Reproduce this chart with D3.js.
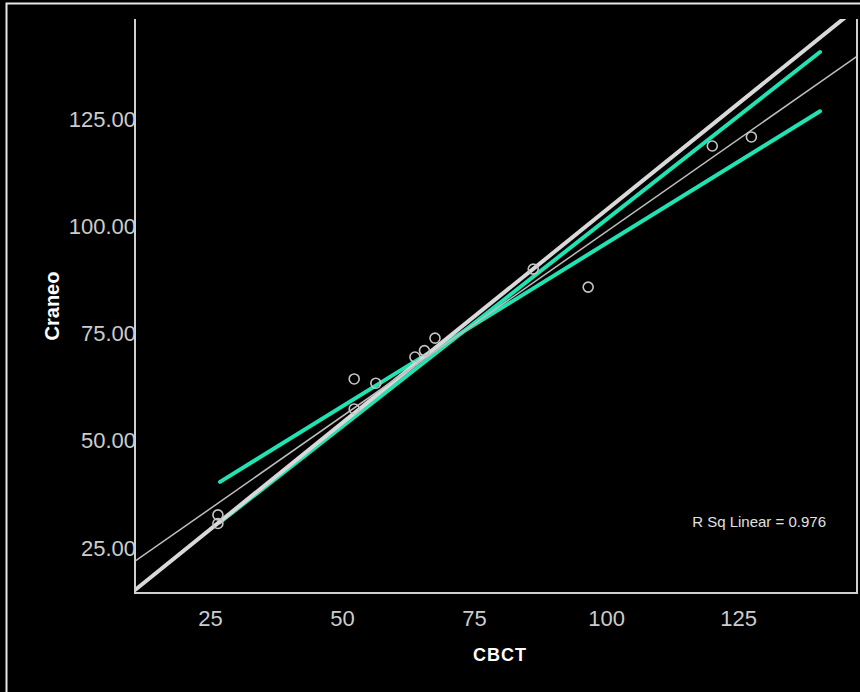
<!DOCTYPE html>
<html>
<head>
<meta charset="utf-8">
<script src="https://cdn.jsdelivr.net/npm/d3@7"></script>
<style>
  body { margin: 0; background: #000; }
  svg { display: block; }
</style>
</head>
<body>
<div id="chart"></div>
<script>
// data
const pointsX = [26.5, 26.5, 52.3, 52.3, 56.4, 63.8, 65.6, 67.6, 86.2, 96.6, 120.1, 127.5];
const pointsY = [32.5, 30.5, 64.2, 57.2, 63.2, 69.3, 70.8, 73.7, 89.8, 85.6, 118.5, 120.6];
const xTicks = [25, 50, 75, 100, 125];
const yTicks = [25, 50, 75, 100, 125];
const fitLine = [[10.8, 21.7], [147.5, 139.4]];
const refLine = [[10.8, 15.0], [147.5, 150.7]];
const cyanFlat = [[26.9, 40.2], [140.5, 126.6]];
const cyanSteep = [[26.9, 30.8], [140.5, 140.4]];
const rSq = 0.976;

const width = 860, height = 692;
const plot = {left: 135, right: 857, top: 19, bottom: 593};

const svg = d3.select("#chart").append("svg")
  .attr("width", width)
  .attr("height", height);

svg.append("rect").attr("width", width).attr("height", height).attr("fill", "#000");

// outer frame (right and bottom run off the picture)
svg.append("rect")
  .attr("x", 6.5).attr("y", 3.5)
  .attr("width", 900).attr("height", 800)
  .attr("fill", "none")
  .attr("stroke", "#e8e8e8")
  .attr("stroke-width", 2);

const x = d3.scaleLinear().domain([10.8, 147.5]).range([plot.left, plot.right]);
const y = d3.scaleLinear().domain([14.3, 148.1]).range([plot.bottom, plot.top]);

svg.append("clipPath").attr("id", "clip")
  .append("rect")
  .attr("x", plot.left).attr("y", plot.top)
  .attr("width", plot.right - plot.left).attr("height", plot.bottom - plot.top);

const g = svg.append("g").attr("clip-path", "url(#clip)");
const line = d3.line().x(d => x(d[0])).y(d => y(d[1]));

g.append("path").datum(cyanFlat).attr("d", line)
  .attr("stroke", "#1fe3b2").attr("stroke-width", 4).attr("fill", "none")
  .attr("stroke-linecap", "round");
g.append("path").datum(cyanSteep).attr("d", line)
  .attr("stroke", "#1fe3b2").attr("stroke-width", 4).attr("fill", "none")
  .attr("stroke-linecap", "round");
g.append("path").datum(refLine).attr("d", line)
  .attr("stroke", "#d9d9d9").attr("stroke-width", 4).attr("fill", "none");
g.append("path").datum(fitLine).attr("d", line)
  .attr("stroke", "#bdbdbd").attr("stroke-width", 1.5).attr("fill", "none");

g.selectAll(".point")
  .data(pointsX.map((v, i) => [v, pointsY[i]]))
  .enter().append("circle")
  .attr("class", "point")
  .attr("cx", d => x(d[0]))
  .attr("cy", d => y(d[1]))
  .attr("r", 5)
  .attr("fill", "none")
  .attr("stroke", "#c4c4c4")
  .attr("stroke-width", 1.6);

// axes frame: left, bottom, right
const axisColor = "#cfcfcf";
const xAxis = d3.axisBottom(x).tickValues(xTicks).tickSize(0).tickPadding(17).tickFormat(d3.format("d"));
const yAxis = d3.axisLeft(y).tickValues(yTicks).tickSize(0).tickPadding(-1).tickFormat(d3.format(".2f"));

const gX = svg.append("g")
  .attr("transform", `translate(0,${plot.bottom})`)
  .call(xAxis);
const gY = svg.append("g")
  .attr("transform", `translate(${plot.left},0)`)
  .call(yAxis);

[gX, gY].forEach(a => {
  a.select(".domain").remove();
  a.selectAll("text")
    .attr("fill", "#cccccc")
    .style("font-family", "'Liberation Sans Narrow', 'Arial Narrow', 'Liberation Sans', Arial, sans-serif")
    .style("font-size", "22px");
});
gY.selectAll("text").attr("dy", "0.36em");

svg.append("path")
  .attr("d", `M${plot.left},${plot.top}V${plot.bottom}H${plot.right}V${plot.top}`)
  .attr("fill", "none")
  .attr("stroke", axisColor)
  .attr("stroke-width", 2);

svg.append("text")
  .attr("x", 500).attr("y", 661)
  .attr("text-anchor", "middle")
  .attr("fill", "#fff")
  .style("font-family", "'Liberation Sans', Arial, sans-serif")
  .style("font-weight", "bold")
  .style("font-size", "18px")
  .style("letter-spacing", "1px")
  .text("CBCT");

svg.append("text")
  .attr("transform", "translate(59,306) rotate(-90)")
  .attr("text-anchor", "middle")
  .attr("fill", "#fff")
  .style("font-family", "'Liberation Sans', Arial, sans-serif")
  .style("font-weight", "bold")
  .style("font-size", "20px")
  .text("Craneo");

svg.append("text")
  .attr("x", 826).attr("y", 527)
  .attr("text-anchor", "end")
  .attr("fill", "#e0e0e0")
  .style("font-family", "'Liberation Sans', Arial, sans-serif")
  .style("font-size", "15px")
  .text(`R Sq Linear = ${rSq.toFixed(3)}`);
</script>
</body>
</html>
